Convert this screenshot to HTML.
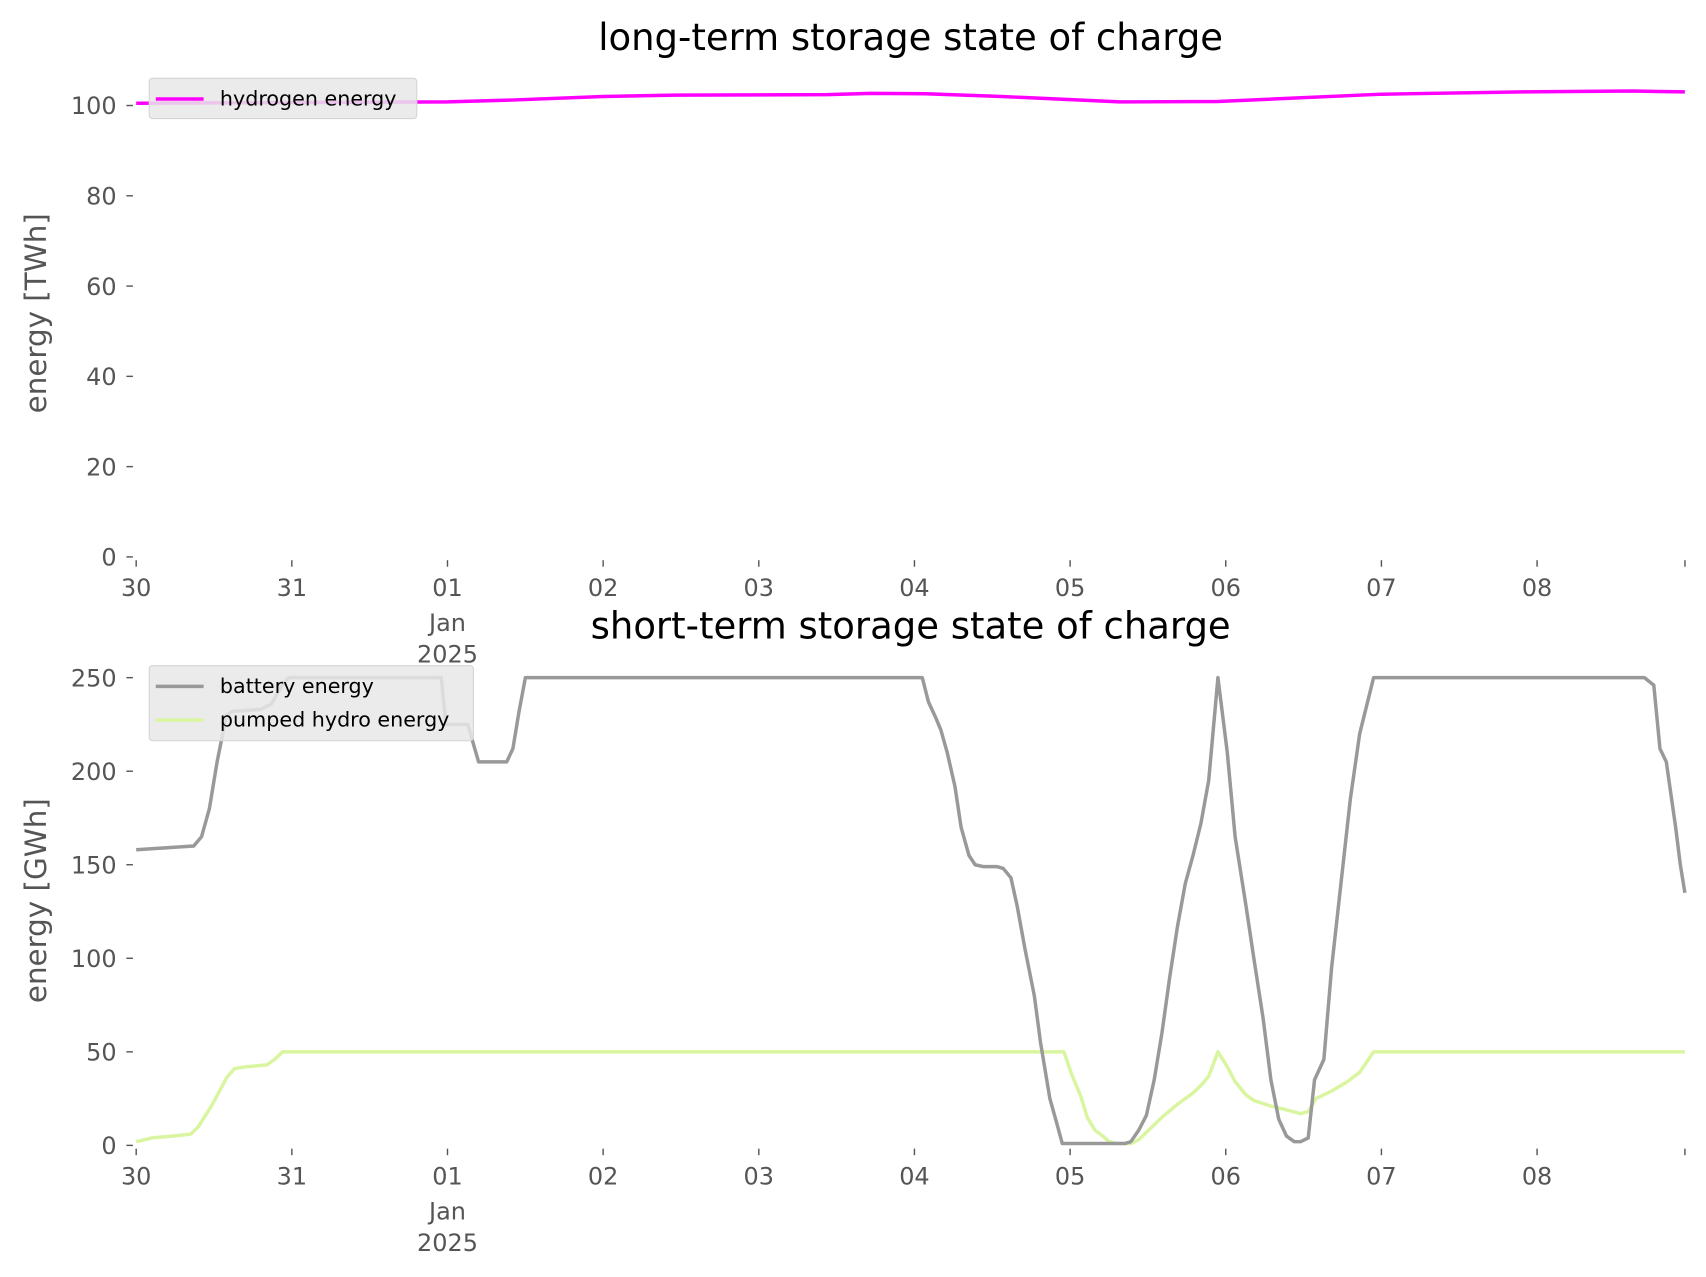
<!DOCTYPE html>
<html><head><meta charset="utf-8"><style>
html,body{margin:0;padding:0;background:#fff;}
svg{display:block;font-family:"DejaVu Sans","Liberation Sans",sans-serif;}
</style></head><body>
<svg id="chart" width="1706" height="1277" viewBox="0 0 1568 1174" xmlns="http://www.w3.org/2000/svg"></svg>
<script>
// ---- data ----
const dayLabels = ["30","31","01","02","03","04","05","06","07","08"];
const h2Days = [0,1.22,2,2.41,3,3.46,4.44,4.72,5.07,5.56,6.32,6.95,8,8.91,9.61,9.95];
const h2Vals = [100.5,100.7,100.8,101.2,102,102.3,102.4,102.7,102.6,102,100.8,100.9,102.5,103,103.2,103];
const batDays = [0,0.37,0.42,0.47,0.52,0.58,0.62,0.80,0.87,0.93,0.98,1.96,1.99,2.13,2.20,2.38,2.42,2.46,2.50,5.05,5.09,5.14,5.17,5.21,5.26,5.30,5.35,5.39,5.44,5.53,5.57,5.62,5.66,5.71,5.77,5.81,5.87,5.92,5.95,6.35,6.39,6.44,6.49,6.54,6.59,6.64,6.69,6.74,6.79,6.84,6.89,6.95,7.01,7.06,7.13,7.18,7.24,7.29,7.34,7.39,7.44,7.48,7.53,7.57,7.63,7.68,7.74,7.80,7.86,7.95,9.69,9.75,9.79,9.83,9.89,9.92,9.95];
const batVals = [158,160,165,180,205,230,232,233,236,245,250,250,225,225,205,205,212,232,250,250,237,228,222,210,192,170,155,150,149,149,148,143,128,105,80,55,25,10,1,1,2,8,16,35,60,90,117,140,155,172,195,250,210,165,128,100,68,35,14,5,2,2,4,35,46,95,140,185,220,250,250,246,212,205,170,150,135];
const phDays = [0,0.10,0.24,0.35,0.40,0.49,0.58,0.63,0.70,0.84,0.89,0.94,5.96,6.01,6.07,6.11,6.16,6.21,6.25,6.30,6.39,6.44,6.49,6.59,6.69,6.79,6.84,6.89,6.95,7.01,7.06,7.13,7.18,7.29,7.39,7.48,7.53,7.58,7.68,7.78,7.86,7.95,9.95];
const phVals = [2,4,5,6,10,22,36,41,42,43,46,50,50,38,26,15,8,5,2,1,1,3,7,15,22,28,32,37,50,42,34,27,24,21,19,17,18,25,29,34,39,50,50];
const topTicks = [0,20,40,60,80,100];
const botTicks = [0,50,100,150,200,250];

const NS="http://www.w3.org/2000/svg";
const svg=document.getElementById('chart');
function mk(tag,attrs,parent){const e=document.createElementNS(NS,tag);for(const k in attrs)e.setAttribute(k,attrs[k]);(parent||svg).appendChild(e);return e;}
const X0=125, DAYPX=143.1;
function xs(d){return X0+d*DAYPX;}
function yTop(v){return 512-v*4.15;}
function yBot(v){return 1053-v*1.72;}

function axis(yf,ticks,zeroY,title,titleY,ylabel,ylabY,name){
  const g=mk('g',{});
  
  
  const t=mk('text',{x:837,y:titleY,'text-anchor':'middle','font-size':34,fill:'#000'},g);
  t.textContent=title;
  
  
  const yl=mk('text',{x:0,y:0,'text-anchor':'middle','font-size':27,fill:'#555',transform:`translate(42,${ylabY}) rotate(-90)`},g);
  yl.textContent=ylabel;
  
  
  ticks.forEach(v=>{
    const y=yf(v);
    const l=mk('line',{x1:116,x2:122,y1:y,y2:y,stroke:'#555','stroke-width':1.3},g);
    
    
    const tx=mk('text',{x:107,y:y+8,'text-anchor':'end','font-size':22,fill:'#555'},g);
    tx.textContent=v;
    
    
  });
  const ends=dayLabels.map((_,i)=>i).concat([9.95]);
  ends.forEach(i=>{
    const x=xs(i);
    const l=mk('line',{x1:x,x2:x,y1:zeroY+3,y2:zeroY+9,stroke:'#555','stroke-width':1.3},g);
    
    
  });
  dayLabels.forEach((lab,i)=>{
    const x=xs(i);
    const tx=mk('text',{x:x,y:zeroY+36,'text-anchor':'middle','font-size':22,fill:'#555'},g);
    tx.textContent=lab;
    
    
    if(lab==="01"){
      const a=mk('text',{x:x,y:zeroY+68,'text-anchor':'middle','font-size':22,fill:'#555'},g);
      a.textContent="Jan";
      
      
      const b=mk('text',{x:x,y:zeroY+97,'text-anchor':'middle','font-size':22,fill:'#555'},g);
      b.textContent="2025";
      
      
    }
  });
}
function series(days,vals,yf,color,name){
  const d=days.map((v,i)=>(i?'L':'M')+xs(v).toFixed(1)+','+yf(vals[i]).toFixed(1)).join('');
  const p=mk('path',{d:d,fill:'none',stroke:color,'stroke-width':3.2,'stroke-linejoin':'round'});
  
  
}
function legend(x,y,w,h,items,name){
  const g=mk('g',{});
  
  
  mk('rect',{x:x,y:y,width:w,height:h,rx:3,fill:'rgba(232,232,232,0.85)',stroke:'#d4d4d4','stroke-width':1},g);
  items.forEach((it,i)=>{
    const cy=y+19+i*31;
    const l=mk('line',{x1:x+6,x2:x+50,y1:cy,y2:cy,stroke:it[1],'stroke-width':3.2},g);
    
    
    const t=mk('text',{x:x+65,y:cy+6,'font-size':19,fill:'#000'},g);
    t.textContent=it[0];
    
    
  });
}
axis(yTop,topTicks,512,"long-term storage state of charge",46,"energy [TWh]",288,"top-axes");
axis(yBot,botTicks,1053,"short-term storage state of charge",587,"energy [GWh]",828,"bottom-axes");
series(h2Days,h2Vals,yTop,'#ff00ff','hydrogen-line');
series(phDays,phVals,yBot,'#d9f5a0','pumped-hydro-line');
series(batDays,batVals,yBot,'#999999','battery-line');
legend(137,72,246,37,[["hydrogen energy","#ff00ff"]],"top-legend");
legend(137,612,298,69,[["battery energy","#999999"],["pumped hydro energy","#d9f5a0"]],"bottom-legend");
</script>
</body></html>
